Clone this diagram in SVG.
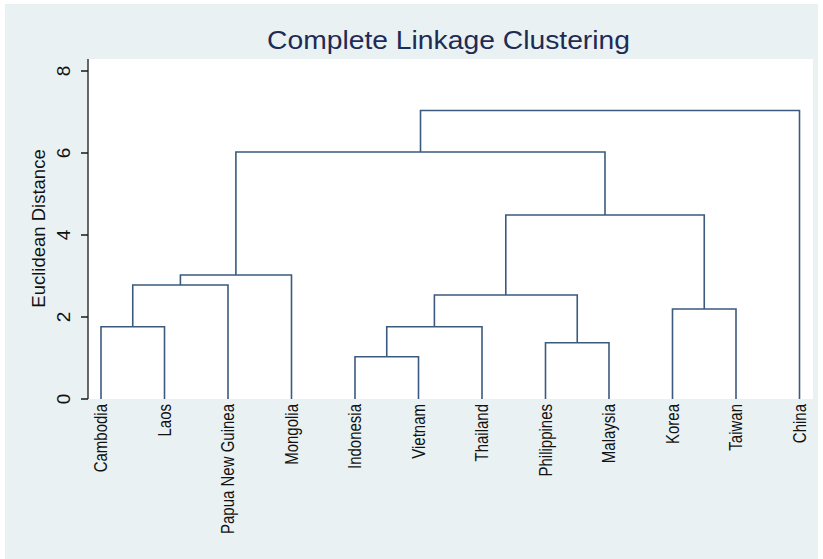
<svg xmlns="http://www.w3.org/2000/svg" width="823" height="559" viewBox="0 0 823 559">
<style>
.bg{fill:#e9f1f3}
.plot{fill:#ffffff}
.axis{stroke:#1a1a1a;stroke-width:1.3;fill:none}
.link{stroke:#3b5a7e;stroke-width:1.6;fill:none}
.title{font-family:"Liberation Sans",Arial,sans-serif;font-size:26px;fill:#1e2b55}
.ylab{font-family:"Liberation Sans",Arial,sans-serif;font-size:18.5px;fill:#111}
.tick{font-family:"Liberation Sans",Arial,sans-serif;font-size:19px;fill:#111}
.leaf{font-family:"Liberation Sans",Arial,sans-serif;font-size:15px;fill:#111;text-anchor:end}
</style>
<rect x="0" y="0" width="823" height="559" fill="#ffffff"/>
<rect class="bg" x="5" y="4" width="813" height="555"/>
<rect class="plot" x="88" y="59" width="725" height="340"/>
<text class="title" x="448.5" y="49" text-anchor="middle" textLength="363" lengthAdjust="spacingAndGlyphs">Complete Linkage Clustering</text>
<g id="yaxis">
<path class="axis" d="M88 59 V399 M81 399 H88 M81 317 H88 M81 235 H88 M81 153 H88 M81 71 H88"/>
<text class="tick" transform="translate(70,399) rotate(-90)" text-anchor="middle">0</text>
<text class="tick" transform="translate(70,317) rotate(-90)" text-anchor="middle">2</text>
<text class="tick" transform="translate(70,235) rotate(-90)" text-anchor="middle">4</text>
<text class="tick" transform="translate(70,153) rotate(-90)" text-anchor="middle">6</text>
<text class="tick" transform="translate(70,71) rotate(-90)" text-anchor="middle">8</text>
<text class="ylab" transform="translate(45,228.5) rotate(-90)" text-anchor="middle">Euclidean Distance</text>
</g>
<g id="connectors">
<path class="link" d="M101 399 V326.7 H164.5 V399"/>
<path class="link" d="M132.75 326.7 V285 H228 V399"/>
<path class="link" d="M180.4 285 V275 H291.5 V399"/>
<path class="link" d="M355 399 V356.7 H418.5 V399"/>
<path class="link" d="M386.75 356.7 V326.7 H482 V399"/>
<path class="link" d="M545.5 399 V342.7 H609 V399"/>
<path class="link" d="M434.4 326.7 V295 H577.25 V342.7"/>
<path class="link" d="M672.5 399 V309 H736 V399"/>
<path class="link" d="M505.8 295 V215 H704.25 V309"/>
<path class="link" d="M235.9 275 V152 H605 V215"/>
<path class="link" d="M420.5 152 V110.5 H799.5 V399"/>
</g>
<g id="leaf-cambodia"><text class="leaf" transform="translate(107,404) rotate(-90) scale(1,1.18)">Cambodia</text></g>
<g id="leaf-laos"><text class="leaf" transform="translate(170.5,404) rotate(-90) scale(1,1.18)">Laos</text></g>
<g id="leaf-png"><text class="leaf" transform="translate(234,404) rotate(-90) scale(1,1.18)">Papua New Guinea</text></g>
<g id="leaf-mongolia"><text class="leaf" transform="translate(297.5,404) rotate(-90) scale(1,1.18)">Mongolia</text></g>
<g id="leaf-indonesia"><text class="leaf" transform="translate(361,404) rotate(-90) scale(1,1.18)">Indonesia</text></g>
<g id="leaf-vietnam"><text class="leaf" transform="translate(424.5,404) rotate(-90) scale(1,1.18)">Vietnam</text></g>
<g id="leaf-thailand"><text class="leaf" transform="translate(488,404) rotate(-90) scale(1,1.18)">Thailand</text></g>
<g id="leaf-philippines"><text class="leaf" transform="translate(551.5,404) rotate(-90) scale(1,1.18)">Philippines</text></g>
<g id="leaf-malaysia"><text class="leaf" transform="translate(615,404) rotate(-90) scale(1,1.18)">Malaysia</text></g>
<g id="leaf-korea"><text class="leaf" transform="translate(678.5,404) rotate(-90) scale(1,1.18)">Korea</text></g>
<g id="leaf-taiwan"><text class="leaf" transform="translate(742,404) rotate(-90) scale(1,1.18)">Taiwan</text></g>
<g id="leaf-china"><text class="leaf" transform="translate(805.5,404) rotate(-90) scale(1,1.18)">China</text></g>
</svg>
